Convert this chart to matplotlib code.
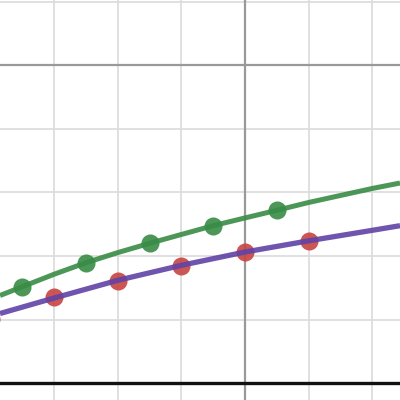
import matplotlib
matplotlib.use("Agg")
import matplotlib.pyplot as plt
import numpy as np

# curve samples (graph units, one grid cell = 1)
green_curve_x = [1.148, 1.5, 2, 2.5, 3, 3.5, 4, 4.5, 5, 5.5, 6, 7, 7.437]
green_curve_y = [1.380, 1.519, 1.715, 1.896, 2.055, 2.201, 2.340, 2.478, 2.600, 2.720, 2.843, 3.063, 3.149]

purple_curve_x = [1.148, 2, 3, 4, 5, 6, 7, 7.437]
purple_curve_y = [1.097, 1.341, 1.619, 1.855, 2.064, 2.240, 2.405, 2.478]

# scatter points
green_x = [1.5, 2.5, 3.5, 4.5, 5.5]
green_y = [1.519, 1.896, 2.201, 2.478, 2.720]

red_x = [1, 2, 3, 4, 5, 6]
red_y = [1.011, 1.352, 1.613, 1.844, 2.060, 2.233]

GREEN = "#388c46"
PURPLE = "#6042a6"
RED = "#c74440"

fig = plt.figure(figsize=(4, 4), dpi=100)
ax = fig.add_axes([0, 0, 1, 1])
ax.set_xlim(1.148, 7.437)
ax.set_ylim(-0.263, 6.027)

# grid: minor every 1, major every 5
for gx in range(2, 8):
    if gx % 5 == 0:
        ax.axvline(gx, color="#999999", lw=1.6, zorder=1)
    else:
        ax.axvline(gx, color="#dddddd", lw=1.3, zorder=0)
for gy in range(1, 7):
    if gy % 5 == 0:
        ax.axhline(gy, color="#999999", lw=1.6, zorder=1)
    else:
        ax.axhline(gy, color="#dddddd", lw=1.3, zorder=0)
ax.axhline(0, color="#111111", lw=2.4, zorder=1)

ax.plot(red_x, red_y, "o", color=RED, ms=13, alpha=0.9, mec="none", zorder=2, clip_on=False)
ax.plot(green_x, green_y, "o", color=GREEN, ms=13, alpha=0.9, mec="none", zorder=2)
ax.plot(purple_curve_x, purple_curve_y, color=PURPLE, lw=3.8, alpha=0.9, zorder=3,
        solid_capstyle="butt")
ax.plot(green_curve_x, green_curve_y, color=GREEN, lw=3.6, alpha=0.9, zorder=3,
        solid_capstyle="butt")

ax.set_xticks([])
ax.set_yticks([])
for s in ax.spines.values():
    s.set_visible(False)

fig.savefig("out.png", dpi=100)
